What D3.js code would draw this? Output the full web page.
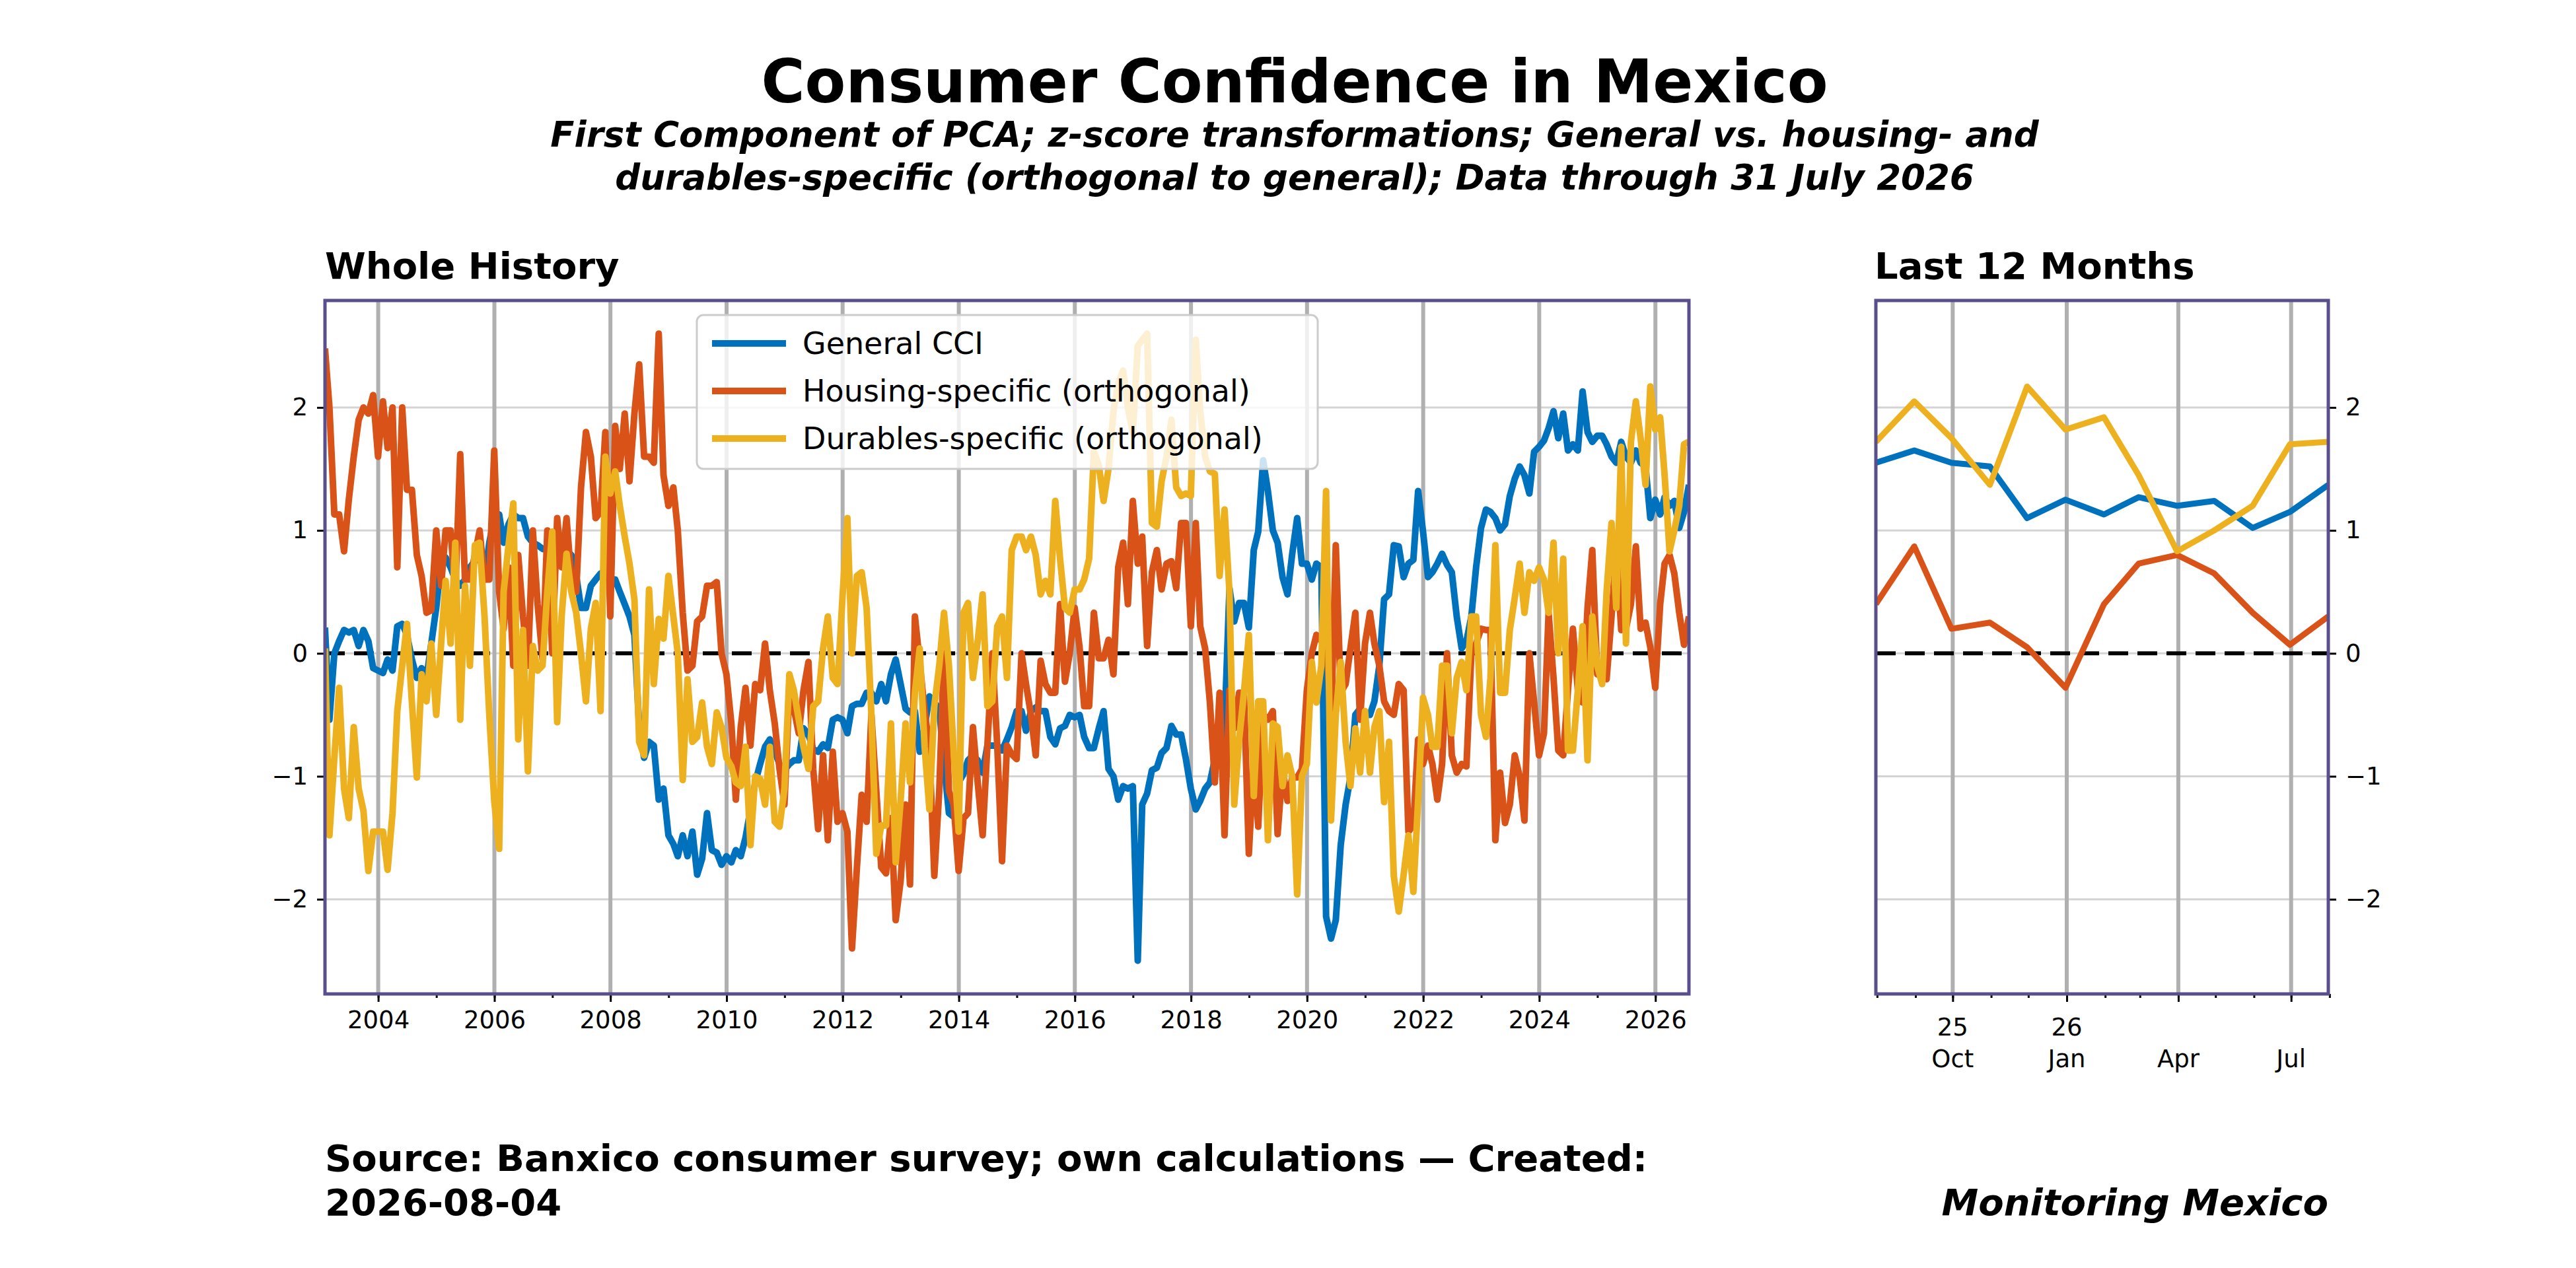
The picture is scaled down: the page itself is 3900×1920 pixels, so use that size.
<!DOCTYPE html>
<html><head><meta charset="utf-8">
<script src="https://cdn.jsdelivr.net/npm/d3@7"></script>
<style>body{margin:0;background:#fff}text{font-family:"DejaVu Sans",sans-serif}</style>
</head><body><svg id="c" width="3900" height="1920"></svg>
<script>
const general = [
0.21,-0.54,0.0,0.1,0.19,0.17,0.19,0.06,0.19,0.1,-0.12,-0.14,
-0.16,-0.05,-0.14,0.22,0.24,0.15,-0.05,-0.2,-0.12,-0.2,0.08,0.37,
0.75,0.78,0.7,0.6,0.55,0.6,0.7,0.75,0.8,0.6,0.9,1.1,
1.13,0.9,1.05,1.13,1.1,1.1,0.95,0.9,0.88,0.85,0.84,0.8,
0.84,0.82,0.84,0.8,0.63,0.37,0.37,0.55,0.6,0.65,0.63,0.6,
0.6,0.5,0.4,0.3,0.15,-0.6,-0.85,-0.72,-0.75,-1.19,-1.1,-1.48,
-1.55,-1.65,-1.48,-1.65,-1.45,-1.8,-1.67,-1.3,-1.6,-1.62,-1.72,-1.65,
-1.7,-1.6,-1.65,-1.5,-1.27,-1.05,-0.9,-0.76,-0.7,-0.8,-0.9,-0.95,
-0.9,-0.87,-0.87,-0.61,-0.66,-0.78,-0.8,-0.74,-0.77,-0.54,-0.52,-0.54,
-0.65,-0.43,-0.41,-0.41,-0.32,-0.32,-0.39,-0.25,-0.39,-0.17,-0.05,-0.25,
-0.45,-0.48,-0.47,-0.8,-0.6,-0.35,-0.4,-0.45,-0.9,-1.3,-1.33,-1.05,
-0.98,-0.87,-0.83,-0.87,-0.97,-0.75,-0.75,-0.75,-0.79,-0.7,-0.6,-0.47,
-0.47,-0.63,-0.47,-0.44,-0.47,-0.47,-0.68,-0.74,-0.61,-0.59,-0.5,-0.52,
-0.5,-0.68,-0.77,-0.77,-0.61,-0.47,-0.94,-1.0,-1.19,-1.08,-1.1,-1.08,
-2.5,-1.23,-1.14,-0.95,-0.93,-0.81,-0.77,-0.59,-0.66,-0.66,-0.86,-1.1,
-1.27,-1.2,-1.1,-1.05,-0.86,-0.8,-0.6,0.53,0.26,0.41,0.41,0.21,
0.84,0.99,1.57,1.32,1.0,0.9,0.62,0.48,0.81,1.1,0.73,0.73,
0.6,0.73,0.7,-2.14,-2.32,-2.17,-1.56,-1.23,-1.01,-0.5,-0.45,-0.5,
-0.5,-0.39,-0.1,0.44,0.48,0.88,0.87,0.62,0.73,0.76,1.32,0.99,
0.62,0.66,0.73,0.81,0.72,0.66,0.3,0.04,0.1,0.3,0.7,1.02,
1.17,1.15,1.1,1.0,1.05,1.28,1.42,1.52,1.45,1.3,1.64,1.68,
1.73,1.83,1.97,1.75,1.95,1.65,1.7,1.65,2.13,1.8,1.72,1.77,
1.77,1.7,1.6,1.55,1.72,1.6,1.55,1.65,1.55,1.52,1.1,1.25,
1.13,1.27,1.2,1.24,1.02,1.15,1.37];
const housing = [
2.48,2.0,1.13,1.13,0.83,1.25,1.6,1.9,2.0,1.95,2.1,1.6,
2.05,1.67,2.0,0.7,2.0,1.33,1.33,0.8,0.63,0.33,0.35,1.0,
0.55,1.0,1.0,0.5,1.62,0.6,0.6,0.8,1.0,0.6,0.6,1.65,
0.5,0.2,0.7,-0.1,0.8,0.3,-0.1,1.0,0.4,-0.05,1.0,0.0,
1.1,0.7,1.1,0.6,0.5,1.35,1.8,1.6,1.1,1.15,1.8,0.3,
1.85,1.5,1.95,1.4,1.95,2.35,1.6,1.6,1.55,2.6,1.45,1.2,
1.35,1.0,0.33,-0.14,-0.1,0.26,0.3,0.55,0.55,0.58,0.0,-0.17,
-0.57,-1.19,-0.6,-0.28,-0.75,-0.25,-0.3,0.08,-0.3,-0.57,-0.94,-1.23,
-0.3,-0.45,-0.65,-0.3,-0.07,-0.94,-1.43,-0.83,-1.52,-0.8,-1.37,-1.3,
-1.45,-2.4,-1.74,-1.15,-1.37,-0.5,-1.12,-1.74,-1.79,-1.34,-2.17,-1.85,
-1.23,-1.88,0.3,-0.07,-0.47,-0.76,-1.81,-1.12,0.0,-1.12,-1.23,-1.77,
-1.34,-1.3,-0.6,-1.05,-1.48,-0.75,0.0,-0.75,-1.69,-0.75,-0.82,-0.86,
0.0,-0.25,-0.5,-0.83,-0.06,-0.25,-0.32,-0.32,0.4,-0.23,0.0,0.37,
0.05,-0.43,-0.43,0.33,-0.04,-0.04,0.11,-0.17,0.7,0.9,0.4,1.24,
0.73,0.95,0.06,0.66,0.84,0.52,0.73,0.75,0.53,1.06,1.06,0.22,
1.06,0.22,0.04,-0.4,-1.05,-0.32,-1.48,-0.3,-0.61,-0.32,-0.32,-1.63,
-0.87,-1.41,-0.5,-0.54,-0.47,-1.47,-0.94,-1.2,-1.01,-1.01,-0.94,-0.3,
0.0,0.15,0.1,0.22,-0.61,0.88,-0.32,-0.25,0.04,0.33,-0.54,0.08,
0.33,0.08,-0.1,-0.39,-0.47,-0.5,-0.25,-0.3,-1.45,-1.4,-0.7,-0.9,
-0.75,-0.9,-1.19,-0.9,0.0,-0.83,-0.97,-0.9,-0.92,0.0,0.08,0.2,
0.19,0.19,-1.52,-0.97,-1.38,-1.23,-0.83,-1.0,-1.36,0.0,-0.4,-0.83,
-0.65,0.33,-0.2,-0.79,-0.83,-0.3,0.2,-0.3,-0.4,0.37,0.84,-0.17,
-0.1,-0.21,0.3,0.84,0.19,0.2,0.4,0.87,0.2,0.25,0.05,-0.28,
0.4,0.73,0.8,0.65,0.33,0.07,0.3];
const durables = [
0.04,-1.48,-0.85,-0.28,-1.1,-1.34,-0.6,-1.1,-1.28,-1.77,-1.45,-1.45,
-1.45,-1.76,-1.3,-0.47,-0.1,0.24,-0.4,-1.01,-0.17,-0.39,0.08,-0.5,
0.08,0.59,0.08,0.9,-0.54,0.55,-0.1,0.88,0.9,0.3,-0.5,-1.2,
-1.59,0.5,0.88,1.22,-0.7,0.19,-0.96,0.06,-0.14,-0.1,0.5,0.99,
-0.56,0.3,0.81,0.5,0.33,0.0,-0.39,0.2,0.41,-0.47,1.6,1.3,
1.48,1.2,0.95,0.73,0.44,-0.72,-0.83,0.52,-0.25,0.28,0.12,0.63,
0.3,0.0,-1.03,-0.21,-0.72,-0.68,-0.4,-0.76,-0.9,-0.48,-0.6,-0.85,
-0.92,-1.05,-1.08,-0.76,-1.56,-1.0,-1.02,-1.23,-0.76,-1.37,-1.41,-1.1,
-0.17,-0.3,-0.54,-0.76,-0.94,-0.43,-0.39,0.04,0.3,-0.2,-0.25,0.45,
1.1,0.0,0.63,0.66,0.37,-0.5,-1.63,-1.4,-1.4,-0.57,-1.7,-1.2,
-0.57,-1.05,-0.32,0.04,-0.76,-1.27,-0.43,-0.1,0.33,-0.1,-0.8,-1.45,
0.33,0.41,-0.2,0.1,0.48,-0.43,-0.39,0.22,0.3,-0.2,0.84,0.95,
0.95,0.84,0.95,0.8,0.48,0.59,0.48,1.24,0.77,0.37,0.33,0.52,
0.52,0.6,0.77,1.64,1.53,1.24,1.5,1.97,2.2,2.3,2.0,1.79,
2.5,2.55,2.6,1.06,1.03,1.4,1.6,1.9,1.35,1.28,1.3,1.28,
2.55,1.97,1.6,1.48,1.46,0.63,1.17,0.5,-1.23,-0.7,-0.32,0.15,
-1.16,-0.39,-0.39,-1.52,-0.57,-0.6,-1.08,-0.83,-1.0,-1.96,-1.0,-0.9,
-0.07,-0.4,-0.1,1.32,-1.36,-0.5,-0.07,-0.72,-1.08,-0.61,-0.97,-0.47,
-0.97,-0.6,-0.47,-1.21,-0.72,-1.81,-2.1,-1.8,-1.48,-1.94,-1.2,-0.36,
-0.5,-0.76,-0.76,-0.1,-0.1,-0.65,-0.2,-0.07,-0.3,0.3,0.3,-0.5,
-0.68,-0.2,0.88,-0.32,-0.32,0.19,0.45,0.73,0.33,0.66,0.59,0.7,
0.6,0.33,0.9,0.0,0.77,-0.79,-0.79,-0.3,0.22,-0.87,0.3,-0.1,
-0.25,0.5,1.06,0.37,1.68,0.08,1.72,2.05,1.75,1.37,2.17,1.82,
1.92,1.45,0.83,1.0,1.2,1.7,1.72];
const seriesNames = ["General CCI","Housing-specific (orthogonal)","Durables-specific (orthogonal)"];
const colors = ["#0072BD","#D95319","#EDB120"];
const yTicks = [-2,-1,0,1,2];

const svg = d3.select("#c");
const n = general.length;
// month-end dates, counted back from July 2026
const dates = d3.range(n).map(i => new Date(2026, 7 - (n - 1 - i), 0));
const all = [general, housing, durables];
const frame = "#5a4e8c";

const y = d3.scaleLinear().domain([-2.77, 2.87]).range([1505, 455]);

function panel(x0, x1, xDomain, idx0, lw, leftAxis) {
  const x = d3.scaleTime().domain(xDomain).range([x0, x1]);
  const g = svg.append("g");
  const clipId = "clip" + x0;
  svg.append("clipPath").attr("id", clipId).append("rect").attr("x", x0).attr("y", 455).attr("width", x1 - x0).attr("height", 1050);
  // horizontal grid
  g.selectAll(".hg").data(yTicks).join("line").attr("x1", x0).attr("x2", x1)
    .attr("y1", d => y(d)).attr("y2", d => y(d)).attr("stroke", "#d4d4d4").attr("stroke-width", 3);
  return {x, g, clipId};
}

// ---------- Left panel ----------
const L = panel(492, 2557, [dates[0], dates[n - 1]]);
const xL = L.x;
const majorYears = d3.range(2004, 2027, 2).map(yr => new Date(yr, 0, 1));
const minorYears = d3.range(2003, 2027).map(yr => new Date(yr, 0, 1)).filter(d => d >= dates[0] && d <= dates[n-1]);
L.g.selectAll(".vg").data(majorYears).join("line").attr("x1", d => xL(d)).attr("x2", d => xL(d))
  .attr("y1", 455).attr("y2", 1505).attr("stroke", "#b0b0b0").attr("stroke-width", 6);
const linesL = svg.append("g").attr("clip-path", `url(#${L.clipId})`);
linesL.append("line").attr("x1", 492).attr("x2", 2557).attr("y1", y(0)).attr("y2", y(0))
  .attr("stroke", "#000").attr("stroke-width", 6).attr("stroke-dasharray", "30,14");
all.forEach((s, k) => {
  linesL.append("path").datum(s).attr("fill", "none").attr("stroke", colors[k]).attr("stroke-width", 10)
    .attr("stroke-linejoin", "round")
    .attr("d", d3.line().x((d, i) => xL(dates[i])).y(d => y(d)));
});
// axes
const axL = svg.append("g").attr("transform", "translate(0,1505)")
  .call(d3.axisBottom(xL).tickValues(majorYears).tickFormat(d3.timeFormat("%Y")).tickSize(12).tickPadding(14));
svg.append("g").attr("transform", "translate(0,1505)")
  .call(d3.axisBottom(xL).tickValues(minorYears).tickFormat("").tickSize(6));
const ayL = svg.append("g").attr("transform", "translate(492,0)")
  .call(d3.axisLeft(y).tickValues(yTicks).tickFormat(d => d < 0 ? "\u2212" + Math.abs(d) : d).tickSize(12).tickPadding(14));
svg.append("rect").attr("x", 492).attr("y", 455).attr("width", 2065).attr("height", 1050)
  .attr("fill", "none").attr("stroke", frame).attr("stroke-width", 5);

// legend
const lg = svg.append("g");
lg.append("rect").attr("x", 1055).attr("y", 477).attr("width", 940).attr("height", 233).attr("rx", 10)
  .attr("fill", "rgba(255,255,255,0.8)").attr("stroke", "#cccccc").attr("stroke-width", 3);
seriesNames.forEach((nm, k) => {
  const yy = 520 + k * 72;
  lg.append("line").attr("x1", 1078).attr("x2", 1190).attr("y1", yy).attr("y2", yy).attr("stroke", colors[k]).attr("stroke-width", 10);
  lg.append("text").attr("x", 1215).attr("y", yy + 16).attr("font-size", 46).text(nm);
});

// ---------- Right panel ----------
const r0 = n - 13;
const R = panel(2840, 3525, [dates[r0], dates[n - 1]]);
const xR = R.x;
const rMajor = [new Date(2025, 9, 1), new Date(2026, 0, 1), new Date(2026, 3, 1), new Date(2026, 6, 1)];
const rMinor = d3.timeMonth.range(new Date(2025, 7, 1), new Date(2026, 7, 2));
R.g.selectAll(".vg").data(rMajor).join("line").attr("x1", d => xR(d)).attr("x2", d => xR(d))
  .attr("y1", 455).attr("y2", 1505).attr("stroke", "#b0b0b0").attr("stroke-width", 6);
const linesR = svg.append("g").attr("clip-path", `url(#${R.clipId})`);
linesR.append("line").attr("x1", 2840).attr("x2", 3525).attr("y1", y(0)).attr("y2", y(0))
  .attr("stroke", "#000").attr("stroke-width", 6).attr("stroke-dasharray", "30,14");
all.forEach((s, k) => {
  linesR.append("path").datum(s.slice(r0)).attr("fill", "none").attr("stroke", colors[k]).attr("stroke-width", 9)
    .attr("stroke-linejoin", "round")
    .attr("d", d3.line().x((d, i) => xR(dates[r0 + i])).y(d => y(d)));
});
svg.append("g").attr("transform", "translate(0,1505)")
  .call(d3.axisBottom(xR).tickValues(rMinor).tickFormat("").tickSize(6));
const axR = svg.append("g").attr("transform", "translate(0,1505)")
  .call(d3.axisBottom(xR).tickValues(rMajor).tickFormat("").tickSize(12));
const rLab = [["25","Oct"],["26","Jan"],["","Apr"],["","Jul"]];
rMajor.forEach((d, i) => {
  const t = svg.append("text").attr("x", xR(d)).attr("text-anchor", "middle").attr("font-size", 37);
  t.append("tspan").attr("x", xR(d)).attr("y", 1568).text(rLab[i][0]);
  t.append("tspan").attr("x", xR(d)).attr("y", 1616).text(rLab[i][1]);
});
svg.append("g").attr("transform", "translate(3525,0)")
  .call(d3.axisRight(y).tickValues(yTicks).tickFormat(d => d < 0 ? "\u2212" + Math.abs(d) : d).tickSize(12).tickPadding(14));
svg.append("rect").attr("x", 2840).attr("y", 455).attr("width", 685).attr("height", 1050)
  .attr("fill", "none").attr("stroke", frame).attr("stroke-width", 5);

svg.selectAll(".tick text").attr("font-size", 37).attr("fill", "#000").attr("font-family", "DejaVu Sans");
svg.selectAll(".tick line").attr("stroke", "#000").attr("stroke-width", 3);
svg.selectAll(".domain").remove();

// ---------- Text ----------
svg.append("text").attr("x", 1960).attr("y", 155).attr("text-anchor", "middle").attr("font-size", 90).attr("font-weight", "bold").text("Consumer Confidence in Mexico");
const st = svg.append("text").attr("text-anchor", "middle").attr("font-size", 53).attr("font-weight", "bold").attr("font-style", "italic");
st.append("tspan").attr("x", 1960).attr("y", 222).text("First Component of PCA; z-score transformations; General vs. housing- and");
st.append("tspan").attr("x", 1960).attr("y", 287).text("durables-specific (orthogonal to general); Data through 31 July 2026");
svg.append("text").attr("x", 492).attr("y", 422).attr("font-size", 56).attr("font-weight", "bold").text("Whole History");
svg.append("text").attr("x", 2838).attr("y", 422).attr("font-size", 56).attr("font-weight", "bold").text("Last 12 Months");
const ft = svg.append("text").attr("font-size", 56).attr("font-weight", "bold");
ft.append("tspan").attr("x", 492).attr("y", 1773).text("Source: Banxico consumer survey; own calculations \u2014 Created:");
ft.append("tspan").attr("x", 492).attr("y", 1840).text("2026-08-04");
svg.append("text").attr("x", 3525).attr("y", 1840).attr("text-anchor", "end").attr("font-size", 56)
  .attr("font-weight", "bold").attr("font-style", "italic").text("Monitoring Mexico");
</script></body></html>
